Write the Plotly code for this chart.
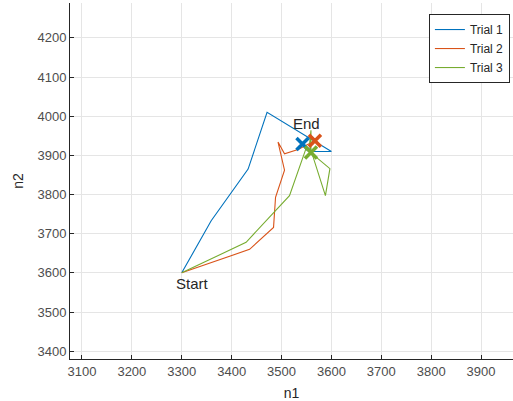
import plotly.graph_objects as go

trial1_x = [3300, 3359, 3433, 3471, 3600, 3562, 3542]
trial1_y = [3600, 3733, 3865, 4010, 3910, 3910, 3929]
trial2_x = [3300, 3436, 3484, 3488, 3506, 3493, 3506, 3533, 3567]
trial2_y = [3600, 3660, 3716, 3793, 3862, 3934, 3904, 3915, 3937]
trial3_x = [3300, 3429, 3516, 3549, 3597, 3588, 3556, 3559, 3559]
trial3_y = [3600, 3678, 3797, 3917, 3866, 3797, 3925, 3964, 3907]

end_x = [trial1_x[-1], trial2_x[-1], trial3_x[-1]]
end_y = [trial1_y[-1], trial2_y[-1], trial3_y[-1]]

names = ["Trial 1", "Trial 2", "Trial 3"]
colors = ["#0072BD", "#D95319", "#77AC30"]
xs = [trial1_x, trial2_x, trial3_x]
ys = [trial1_y, trial2_y, trial3_y]

x_ticks = [3100, 3200, 3300, 3400, 3500, 3600, 3700, 3800, 3900]
y_ticks = [3400, 3500, 3600, 3700, 3800, 3900, 4000, 4100, 4200]

fig = go.Figure()
for n, c, x, y in zip(names, colors, xs, ys):
    fig.add_trace(go.Scatter(x=x, y=y, mode="lines", name=n,
                             line=dict(color=c, width=1.1)))
for i in range(3):
    fig.add_trace(go.Scatter(x=[end_x[i]], y=[end_y[i]], mode="markers", showlegend=False,
                             marker=dict(symbol="x-thin-open", size=12, color=colors[i],
                                         line=dict(color=colors[i], width=3.5))))

fig.add_annotation(x=3322, y=3574, text="Start", showarrow=False,
                   font=dict(size=15, color="#262626"))
fig.add_annotation(x=3551, y=3981, text="End", showarrow=False,
                   font=dict(size=15, color="#262626"))

axis_common = dict(showline=True, linecolor="#262626", linewidth=1, mirror=False,
                   ticks="inside", ticklen=4, tickcolor="#262626",
                   showgrid=True, gridcolor="#e5e5e5", gridwidth=1, zeroline=False,
                   tickfont=dict(size=13, color="#4d4d4d"),
                   title_font=dict(size=14, color="#262626"))

fig.update_layout(
    width=513, height=401,
    margin=dict(l=70, r=0, t=3, b=42),
    plot_bgcolor="white", paper_bgcolor="white",
    font=dict(family="Liberation Sans, Arial, sans-serif"),
    xaxis=dict(range=[3076, 3964], tickvals=x_ticks, title=dict(text="n1", standoff=10), **axis_common),
    yaxis=dict(range=[3380, 4289], tickvals=y_ticks, title=dict(text="n2", standoff=10), **axis_common),
    legend=dict(x=0.993, y=0.969, xanchor="right", yanchor="top",
                bgcolor="white", bordercolor="#262626", borderwidth=1,
                font=dict(size=12, color="#262626"), tracegroupgap=0,
                itemwidth=30),
    showlegend=True,
)

fig.write_html("out.html")
